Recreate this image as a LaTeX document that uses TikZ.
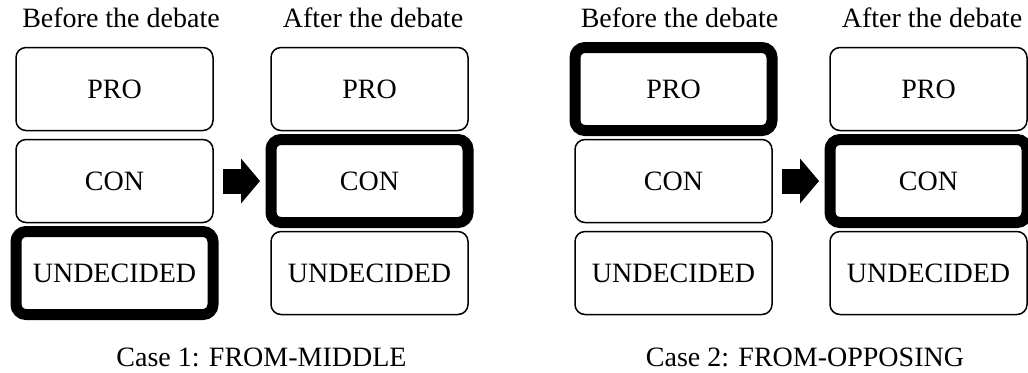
\documentclass[tikz,border=0pt]{standalone}
\usepackage{fontspec}
\setmainfont{Liberation Serif}
\usetikzlibrary{arrows.meta,positioning}

\begin{document}
\begin{tikzpicture}[x=0.5pt, y=-0.5pt,
        box/.style={draw, rounded corners=5pt, line width=0.75pt, outer sep=0pt,
            minimum width=98.5pt, minimum height=41.5pt, inner sep=0pt},
        picked/.style={box, line width=5.5pt},
        head/.style={anchor=base, inner sep=0pt},
        move/.style={line width=12.5pt, shorten <=5pt, shorten >=5.5pt,
            -{Triangle[length=9.5pt, width=22.5pt, line width=0pt]}},
        node distance=4.5pt and 29pt,
        font=\fontsize{14}{16}\selectfont]

        \useasboundingbox (0,0) rectangle (1028,372);

        % case 1
        \node[box] (bPro1) at (114.5,89) {PRO};
        \node[box, below=of bPro1] (bCon1) {CON};
        \node[picked, below=of bCon1] (bUnd1) {UNDECIDED};

        \node[box, right=of bPro1] (aPro1) {PRO};
        \node[picked, below=of aPro1] (aCon1) {CON};
        \node[box, below=of aCon1] (aUnd1) {UNDECIDED};

        \node[head] (hBefore1) at (121,27) {Before the debate};
        \node[head] (hAfter1) at (373,27) {After the debate};
        \node[head] (cap1) at (261.5,366) {Case 1: FROM-MIDDLE};

        \draw[move] (bCon1) -- (aCon1);

        % case 2
        \node[picked] (bPro2) at (673.5,89) {PRO};
        \node[box, below=of bPro2] (bCon2) {CON};
        \node[box, below=of bCon2] (bUnd2) {UNDECIDED};

        \node[box, right=of bPro2] (aPro2) {PRO};
        \node[picked, below=of aPro2] (aCon2) {CON};
        \node[box, below=of aCon2] (aUnd2) {UNDECIDED};

        \node[head] (hBefore2) at (679.5,27) {Before the debate};
        \node[head] (hAfter2) at (932,27) {After the debate};
        \node[head] (cap2) at (805,366) {Case 2: FROM-OPPOSING};

        \draw[move] (bCon2) -- (aCon2);

    \end{tikzpicture}
\end{document}
